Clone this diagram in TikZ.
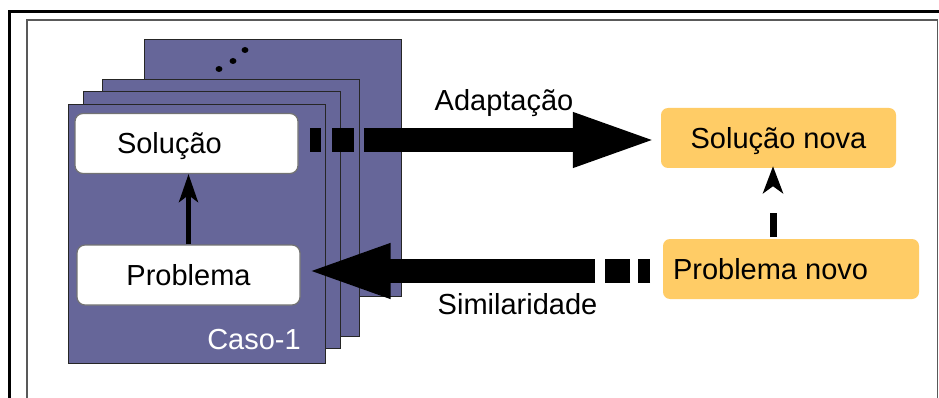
\documentclass[tikz,border=0pt]{standalone}
\usepackage{fontspec}
\setmainfont{Liberation Sans}
\usetikzlibrary{arrows.meta}
\definecolor{cardfill}{RGB}{102,102,153}
\definecolor{boxorange}{RGB}{255,204,102}
\begin{document}
\begin{tikzpicture}[x=1pt,y=-1pt,
  lbl/.style={font=\fontsize{29}{34}\selectfont, inner sep=0pt, text height=21pt, text depth=0pt},
  card/.style={draw=black!85, line width=1.4pt, fill=cardfill, minimum width=257pt, minimum height=257pt, anchor=north west, inner sep=0pt},
  wbox/.style={lbl, draw=black!55, line width=1.2pt, fill=white, rounded corners=8pt, minimum height=60pt},
  obox/.style={lbl, fill=boxorange, rounded corners=7pt, minimum height=60pt},
  blockarrow/.style={line width=24pt, -{Triangle[length=88pt,width=48pt]}},
  smallarrow/.style={line width=4.5pt, -{Stealth[length=28pt,width=19pt,inset=7pt]}},
  dasharrow/.style={line width=7pt, dash pattern=on 24pt off 200pt, -{Stealth[length=27pt,width=20pt,inset=7pt]}},
]
\useasboundingbox (0,0) rectangle (939,398);
\clip (0,0) rectangle (939,398);
\fill[white] (0,0) rectangle (939,398);
% frames
\draw[line width=3pt] (9,420) -- (9,12) -- (960,12);
\draw[line width=1.4pt, black!65] (27,420) -- (27,20) -- (937.5,20) -- (937.5,420);
% cards
\node[card] (c4) at (144,39) {};
\node[card] (c3) at (102,79) {};
\node[card] (c2) at (83,91) {};
\node[card, minimum height=259pt] (c1) at (68,104) {};
% dots
\fill (219,69) circle[x radius=3.4pt, y radius=3pt];
\fill (233,61) circle[x radius=3.4pt, y radius=3pt];
\fill (245,50) circle[x radius=3.4pt, y radius=3pt];
% boxes
\node[wbox, minimum width=223pt] (sol) at (186.5,143.5) {\makebox[223pt][l]{\hspace{42pt}Solução}};
\node[wbox, minimum width=223pt] (prob) at (188.5,275) {Problema};
\node[obox, minimum width=235pt] (soln) at (778.5,138) {Solução nova};
\node[obox] (probn) at (791,269) {\makebox[256pt][l]{\hspace{10pt}Problema novo}};
% labels
\node[lbl] (adapt) at (504,100) {Adaptação};
\node[lbl] (simil) at (517.5,304) {Similaridade};
\node[lbl, text=white] (caso) at (254,339) {Caso-1};
% connectors
\draw[smallarrow] (prob.north) -- (prob.north |- sol.south);
\coordinate (a0) at (310,140);
\draw[blockarrow, dash pattern=on 11pt off 11pt on 22pt off 10pt on 600pt] (a0) -- (a0 -| soln.west);
\coordinate (b0) at (650,271);
\draw[blockarrow, dash pattern=on 12pt off 8pt on 25pt off 10pt on 600pt] (b0) -- ([xshift=2pt]b0 -| prob.east);
\coordinate (d0) at (773,237);
\draw[dasharrow] (d0) -- ([yshift=2pt]d0 |- soln.south);
\end{tikzpicture}
\end{document}
